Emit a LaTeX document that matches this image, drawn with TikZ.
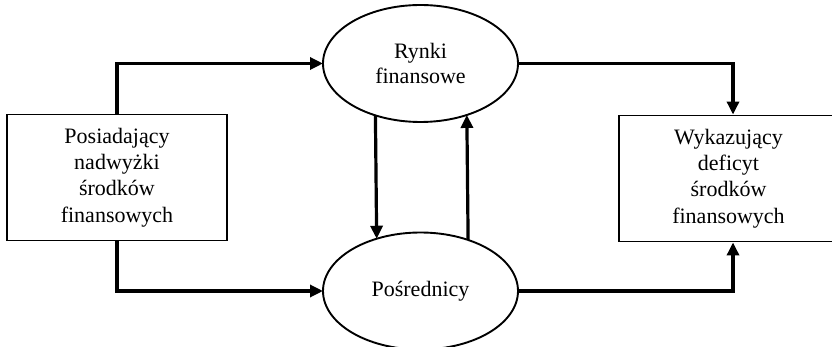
\documentclass[tikz,border=0pt]{standalone}
\usepackage{fontspec}
\setmainfont{Liberation Serif}
\usetikzlibrary{shapes.geometric,arrows.meta,calc}
\tikzset{
  boxnode/.style={draw, line width=1.9pt, rectangle, minimum height=126pt, inner sep=0pt, align=center,
    font=\fontsize{22}{26.4}\selectfont},
  ovalnode/.style={draw, line width=1.9pt, ellipse, minimum width=195pt, minimum height=117pt, inner sep=0pt, outer sep=0pt, align=center,
    font=\fontsize{22}{25.5}\selectfont},
  flow/.style={line width=3.2pt, -{Triangle[length=13pt,width=12pt]}}
}
\begin{document}
\begin{tikzpicture}[x=1pt,y=-1pt]
\clip (0,0) rectangle (832,347);
\fill[white] (0,0) rectangle (832,347);
\node[boxnode, minimum width=220pt] (L) at (117,177.5) {Posiadający\\nadwyżki\\środków\\finansowych};
\node[boxnode, minimum width=228pt] (R) at (733,178.5) {\hspace*{-9pt}Wykazujący\\\hspace*{-9pt}deficyt\\\hspace*{-9pt}środków\\\hspace*{-9pt}finansowych};
\node[ovalnode] (T) at (420.5,63.5) {Rynki\\finansowe};
\node[ovalnode] (B) at (420.5,291) {Pośrednicy};
\draw[flow] (L.north) |- (T.west);
\draw[flow] (L.south) |- (B.west);
\draw[flow] (T.east) -| (R.north);
\draw[flow] (B.east) -| (R.south);
\draw[flow] (T.229.5) -- (B.130.5);
\draw[flow] (B.47.5) -- (T.312.5);
\end{tikzpicture}
\end{document}
